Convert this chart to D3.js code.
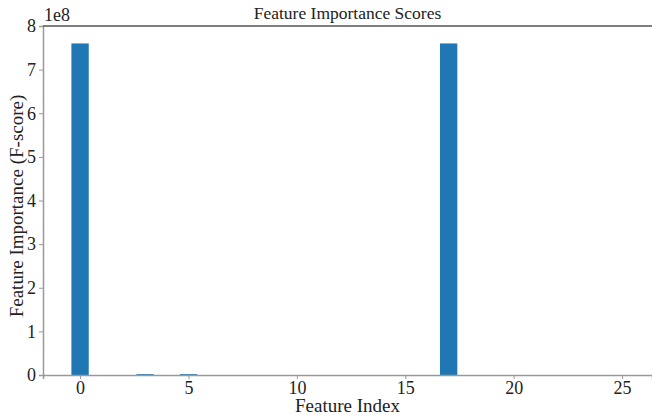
<!DOCTYPE html>
<html><head><meta charset="utf-8">
<script src="https://cdn.jsdelivr.net/npm/d3@7"></script>
<style>body{margin:0;background:#fff}svg{display:block}</style>
</head><body>
<svg id="c" width="652" height="415"></svg>
<script>
const features = d3.range(27);
const scores = [7.6e8,0,0,2e6,0,2e6,0,0,0,0,0,0,0,0,0,0,0,7.6e8,0,0,0,0,0,0,0,0,0];
const xTicks = [0,5,10,15,20,25];
const yTicks = [0,1,2,3,4,5,6,7,8];

const svg = d3.select("#c");
const L=43, R=652, T=26, B=375;
const x = d3.scaleLinear().domain([-1.71,26.38]).range([L,R]);
const y = d3.scaleLinear().domain([0,8e8]).range([B,T]);
const bw = x(0.8)-x(0);
const font = "'Liberation Serif', 'Times New Roman', serif";

svg.append("g").selectAll("rect").data(features).join("rect")
  .attr("x", d=>x(d-0.4)).attr("width", bw)
  .attr("y", d=>y(scores[d])).attr("height", d=>B-y(scores[d]))
  .attr("fill","#1f77b4");

const xa = svg.append("g").attr("transform",`translate(0,${B})`)
  .call(d3.axisBottom(x).tickValues(xTicks).tickSize(4).tickPadding(2));
const ya = svg.append("g").attr("transform",`translate(${L},0)`)
  .call(d3.axisLeft(y).tickValues(yTicks.map(v=>v*1e8)).tickFormat(d=>d/1e8).tickSize(4).tickPadding(3));
[xa,ya].forEach(a=>{
  a.attr("font-family",null).attr("font-size",null);
  a.select(".domain").attr("stroke","#999").attr("stroke-width",1.5);
  a.selectAll(".tick line").attr("stroke","#999");
  a.selectAll(".tick text").style("font-family",font).style("font-size","18px").attr("fill","#222");
});
svg.append("line").attr("x1",L).attr("x2",R).attr("y1",T).attr("y2",T)
  .attr("stroke","#555").attr("stroke-width",1.5);

svg.append("text").attr("x",(L+R)/2).attr("y",19).attr("text-anchor","middle")
  .style("font-family",font).style("font-size","17.5px").attr("fill","#222").text("Feature Importance Scores");
svg.append("text").attr("x",(L+R)/2).attr("y",412).attr("text-anchor","middle")
  .style("font-family",font).style("font-size","19px").attr("fill","#222").text("Feature Index");
svg.append("text").attr("transform",`translate(23,206) rotate(-90)`).attr("text-anchor","middle")
  .style("font-family",font).style("font-size","19px").attr("fill","#222").text("Feature Importance (F-score)");
svg.append("text").attr("x",L+1).attr("y",21)
  .style("font-family",font).style("font-size","18px").attr("fill","#222").text("1e8");
</script>
</body></html>
